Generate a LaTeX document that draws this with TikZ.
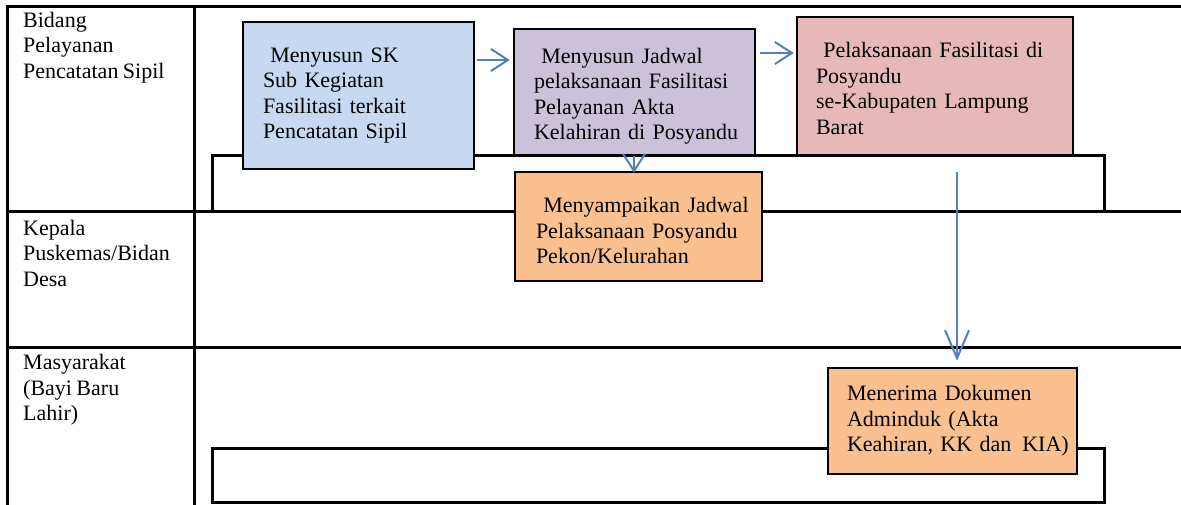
\documentclass[tikz,border=0pt]{standalone}
\usepackage{fontspec}
\setmainfont[WordSpace=0.8]{Liberation Serif}
\usetikzlibrary{arrows.meta}
\definecolor{cblue}{HTML}{C6D9F1}
\definecolor{cpurple}{HTML}{CCC1DA}
\definecolor{cpink}{HTML}{E6B9B8}
\definecolor{corange}{HTML}{FAC090}
\definecolor{carrow}{HTML}{4F81BD}
\begin{document}
\begin{tikzpicture}[x=1pt,y=-1pt,
  tline/.style={line width=3pt, draw=black},
  txt/.style={font=\fontsize{22}{25.5}\selectfont, align=left, inner sep=0pt},
  stepbox/.style={draw=black, line width=2.5pt, inner sep=0pt, align=left, font=\fontsize{22}{25.5}\selectfont},
  arr/.style={draw=carrow, line width=2pt, -{Straight Barb[length=17pt,width=22pt]}},
  longarr/.style={draw=carrow, line width=2pt, -{Straight Barb[length=28pt,width=24pt]}}]
\useasboundingbox (0,0) rectangle (1181,505);
% table
\draw[tline] (7.5,505) -- (7.5,7) -- (1181,7);
\draw[tline] (194,7) -- (194,505);
\draw[tline] (6,211.5) -- (1181,211.5);
\draw[tline] (6,347.5) -- (1181,347.5);
% lane labels
\node[txt, anchor=west] (l1) at (23,47.5) {Bidang\\Pelayanan\\Pencatatan Sipil};
\node[txt, anchor=west] (l2) at (23,253) {Kepala\\Puskemas/Bidan\\Desa};
\node[txt, anchor=west] (l3) at (23,390) {Masyarakat\\(Bayi Baru\\Lahir)};
% pool frames
\draw[tline] (212,211.5) -- (212,156) -- (1104,156) -- (1104,211.5);
\draw[tline] (212,448) rectangle (1104,502);
% boxes
\node[stepbox, fill=cblue, minimum width=231pt, minimum height=147pt, text width=191pt] (b1) at (358.5,95.5)
  {\mbox{\ Menyusun SK}\\\mbox{Sub Kegiatan}\\\mbox{Fasilitasi terkait}\\\mbox{Pencatatan Sipil}};
\node[stepbox, fill=cpurple, minimum width=241pt, minimum height=126pt, text width=201pt] (b2) at (634.5,92)
  {\mbox{\rule{0pt}{24pt}\ Menyusun Jadwal}\\\mbox{pelaksanaan Fasilitasi}\\\mbox{Pelayanan Akta}\\\mbox{Kelahiran di Posyandu}};
\node[stepbox, fill=cpink, minimum width=276pt, minimum height=138pt, text width=238pt] (b3) at (935,86)
  {\mbox{\rule{0pt}{20pt}\ Pelaksanaan Fasilitasi di}\\\mbox{Posyandu}\\\mbox{se-Kabupaten Lampung}\\\mbox{Barat}};
\node[stepbox, fill=corange, minimum width=247pt, minimum height=109pt, text width=205pt] (b4) at (638.5,226.5)
  {\mbox{\rule{0pt}{24pt}\ Menyampaikan Jadwal}\\\mbox{Pelaksanaan Posyandu}\\\mbox{Pekon/Kelurahan}};
\node[stepbox, fill=corange, minimum width=249pt, minimum height=106pt, text width=211pt] (b5) at (952.5,421)
  {\mbox{Menerima Dokumen}\\\mbox{Adminduk (Akta}\\\mbox{Keahiran, KK dan\ \,KIA)}};
% arrows
\draw[arr, shorten <=2pt, shorten >=3pt] (b1.east |- 0,60) -- (b2.west |- 0,60);
\draw[arr, shorten <=4pt, shorten >=2pt] (b2.east |- 0,53) -- (b3.west |- 0,53);
\draw[arr, shorten >=-2pt] (b2.south -| 634,0) -- (b4.north -| 634,0);
\coordinate (p3) at (957,172);
\draw[longarr, shorten >=6pt] (p3) -- (b5.north -| p3);
\end{tikzpicture}
\end{document}
